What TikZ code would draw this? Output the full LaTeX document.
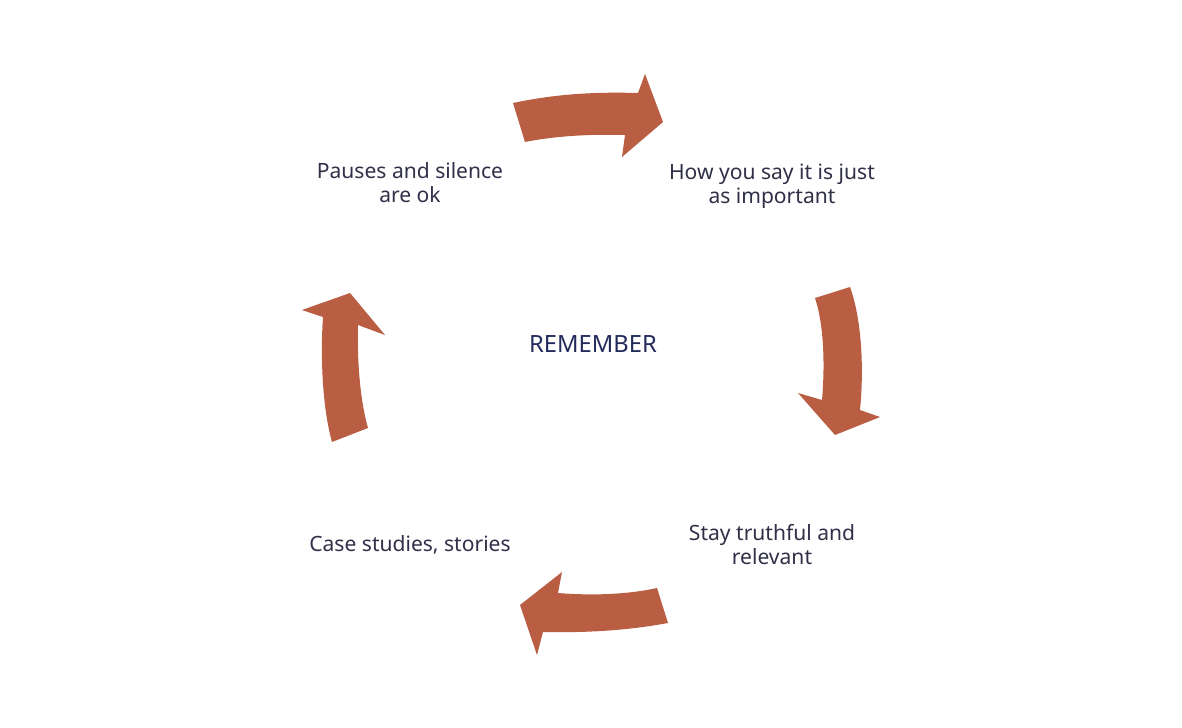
\documentclass[tikz,border=0pt]{standalone}
\usepackage{fontspec}
\setmainfont{Noto Sans}
\definecolor{arrowc}{RGB}{185,94,66}
\definecolor{txt}{RGB}{48,48,72}
\definecolor{navy}{RGB}{36,44,92}
\tikzset{
  bigarrow/.style={fill=arrowc,draw=none},
  label/.style={text=txt,font=\fontsize{15.8}{18}\selectfont,align=center,inner sep=0pt},
}
\begin{document}
\begin{tikzpicture}[x=0.75pt,y=-0.75pt]
\useasboundingbox[fill=white] (0,0) rectangle (1182,728);
% arrows
\fill[bigarrow] (513,103) .. controls (560,93) and (600,92) .. (638,93) -- (645,74) -- (663,122) -- (622,157) -- (625,135) .. controls (590,134) and (555,136) .. (525,142) -- cycle;
\fill[bigarrow] (815,298) -- (850,287) .. controls (862,320) and (864,370) .. (860,410) -- (880,417) -- (835,435) -- (798,393) -- (822,400) .. controls (825,365) and (824,325) .. (815,298) -- cycle;
\fill[bigarrow] (657,588) -- (668,623) .. controls (630,630) and (590,633) .. (543,632) -- (537,655) -- (520,605) -- (562,572) -- (558,593) .. controls (595,596) and (630,594) .. (657,588) -- cycle;
\fill[bigarrow] (332,442) -- (368,428) .. controls (360,400) and (357,360) .. (358,325) -- (385,335) -- (350,293) -- (302,310) -- (323,317) .. controls (320,360) and (323,410) .. (332,442) -- cycle;
% labels
\node[label] (pauses) at (410,183) {Pauses and silence\\are ok};
\node[label] (how) at (772,186) {How you say it is just\\as important};
\node[label,text=navy,font=\fontsize{17.8}{18}\selectfont] (rem) at (593,344) {REMEMBER};
\node[label] (stay) at (772,545) {Stay truthful and\\relevant};
\node[label] (case) at (410,545) {Case studies, stories};
\end{tikzpicture}
\end{document}
